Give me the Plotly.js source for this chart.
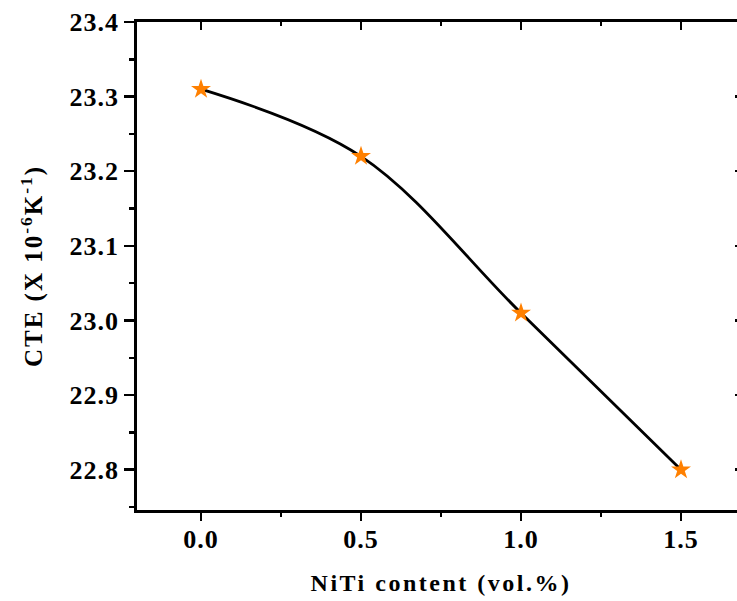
<!DOCTYPE html>
<html><head><meta charset="utf-8">
<script src="https://cdn.plot.ly/plotly-3.0.1.min.js"></script>
<style>html,body{margin:0;padding:0;overflow:hidden;background:#fff}
.xtitle{letter-spacing:2.5px}
.ytitle{letter-spacing:2px}
.xtick text,.ytick text{letter-spacing:1px}</style>
</head><body><div id="chart" style="width:750px;height:601px"></div>
<script>
const nitiContent = [0.0, 0.5, 1.0, 1.5];
const cte = [23.31, 23.22, 23.01, 22.80];
const xTicks = [0.0, 0.5, 1.0, 1.5];
const xTickLabels = ['0.0', '0.5', '1.0', '1.5'];
const yTicks = [22.8, 22.9, 23.0, 23.1, 23.2, 23.3, 23.4];
const yTickLabels = ['22.8', '22.9', '23.0', '23.1', '23.2', '23.3', '23.4'];

const font = {family: 'Liberation Serif, Times New Roman, serif', color: '#000'};
const xr = [-0.2, 1.7], yr = [22.746, 23.4];

const traces = [
  {x: nitiContent, y: cte, type: 'scatter', mode: 'lines', line: {color: '#000', width: 2.8, shape: 'spline', smoothing: 1}, hoverinfo: 'skip'},
  {x: nitiContent, y: cte, type: 'scatter', mode: 'markers', marker: {symbol: 'star', size: 15, color: '#FF8000', line: {width: 0}}}
];

const layout = {
  width: 750, height: 601,
  margin: {l: 137, r: 5, t: 22, b: 91},
  paper_bgcolor: '#fff', plot_bgcolor: '#fff',
  showlegend: false,
  font: font,
  xaxis: {
    range: xr, tickmode: 'array', tickvals: xTicks, ticktext: xTickLabels,
    ticks: 'outside', ticklen: 8, tickwidth: 2.5, tickcolor: '#000', ticklabelstandoff: -4,
    minor: {dtick: 0.25, ticks: 'outside', ticklen: 4, tickwidth: 2.5, tickcolor: '#000'},
    showline: true, linecolor: '#000', linewidth: 2.8, showgrid: false, zeroline: false,
    tickfont: {family: font.family, size: 26, color: '#000', weight: 'bold'},
    title: {text: '<b>NiTi content (vol.%)</b>', font: {family: font.family, size: 24, color: '#000'}, standoff: 22}
  },
  yaxis: {
    range: yr, tickmode: 'array', tickvals: yTicks, ticktext: yTickLabels,
    ticks: 'outside', ticklen: 10, tickwidth: 2.5, tickcolor: '#000',
    minor: {dtick: 0.05, tick0: 22.75, ticks: 'outside', ticklen: 5, tickwidth: 2.5, tickcolor: '#000'},
    showline: true, linecolor: '#000', linewidth: 2.8, showgrid: false, zeroline: false,
    tickfont: {family: font.family, size: 26, color: '#000', weight: 'bold'},
    title: {text: '<b>CTE (X 10<sup>-6</sup>K<sup>-1</sup>)</b>', font: {family: font.family, size: 25, color: '#000'}, standoff: 20}
  },
  xaxis2: {
    overlaying: 'x', side: 'top', anchor: 'y', range: xr, matches: 'x',
    tickmode: 'array', tickvals: xTicks, showticklabels: false,
    ticks: 'inside', ticklen: 8, tickwidth: 2.5, tickcolor: '#000',
    minor: {dtick: 0.25, ticks: 'inside', ticklen: 4, tickwidth: 2.5, tickcolor: '#000'},
    showline: true, linecolor: '#000', linewidth: 2.8, showgrid: false, zeroline: false
  },
  yaxis2: {
    overlaying: 'y', side: 'right', anchor: 'x', range: yr,
    tickmode: 'array', tickvals: yTicks, showticklabels: false,
    ticks: 'inside', ticklen: 10, tickwidth: 2.5, tickcolor: '#000',
    minor: {dtick: 0.05, tick0: 22.75, ticks: 'inside', ticklen: 5, tickwidth: 2.5, tickcolor: '#000'},
    showline: true, linecolor: '#000', linewidth: 2.8, showgrid: false, zeroline: false
  }
};
traces.push({x: [null], y: [null], xaxis: 'x2', yaxis: 'y2', type: 'scatter', showlegend: false, hoverinfo: 'skip'});
Plotly.newPlot('chart', traces, layout, {displayModeBar: false, staticPlot: true});
</script></body></html>
